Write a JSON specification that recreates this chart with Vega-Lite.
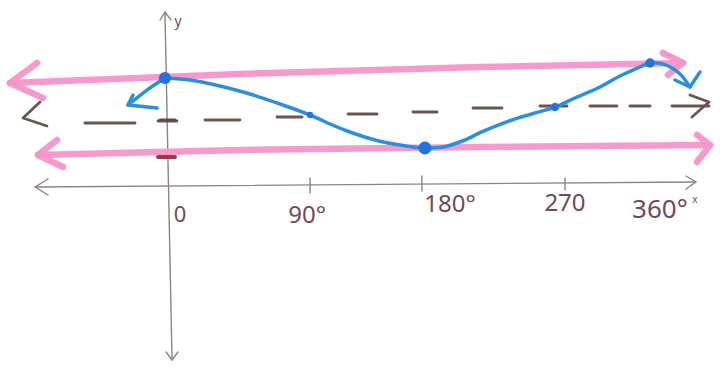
{
  "$schema": "https://vega.github.io/schema/vega-lite/v6.json",
  "width": 720,
  "height": 370,
  "padding": 0,
  "autosize": {"type": "fit", "contains": "padding"},
  "background": "#ffffff",
  "config": {"view": {"stroke": null}},
  "datasets": {
    "lines": [
      {"kind": "axis", "path": "yaxis", "i": 0, "x": -3.8, "y": 3.04},
      {"kind": "axis", "path": "yaxis", "i": 1, "x": 1.4, "y": -7.4},
      {"kind": "axis", "path": "yarrT", "i": 0, "x": -7.4, "y": 2.8},
      {"kind": "axis", "path": "yarrT", "i": 1, "x": -3.8, "y": 3.04},
      {"kind": "axis", "path": "yarrT", "i": 2, "x": 0.6, "y": 2.8},
      {"kind": "axis", "path": "yarrB", "i": 0, "x": -3.0, "y": -7.16},
      {"kind": "axis", "path": "yarrB", "i": 1, "x": 1.4, "y": -7.4},
      {"kind": "axis", "path": "yarrB", "i": 2, "x": 5.8, "y": -7.16},
      {"kind": "axis", "path": "xaxis", "i": 0, "x": -99.3, "y": -2.21},
      {"kind": "axis", "path": "xaxis", "i": 1, "x": 386.3, "y": -2.06},
      {"kind": "axis", "path": "xarrL", "i": 0, "x": -89.7, "y": -1.97},
      {"kind": "axis", "path": "xarrL", "i": 1, "x": -99.3, "y": -2.21},
      {"kind": "axis", "path": "xarrL", "i": 2, "x": -89.7, "y": -2.45},
      {"kind": "axis", "path": "xarrR", "i": 0, "x": 379.0, "y": -1.88},
      {"kind": "axis", "path": "xarrR", "i": 1, "x": 386.3, "y": -2.06},
      {"kind": "axis", "path": "xarrR", "i": 2, "x": 379.0, "y": -2.27},
      {"kind": "axis", "path": "t90", "i": 0, "x": 102.8, "y": -1.94},
      {"kind": "axis", "path": "t90", "i": 1, "x": 102.8, "y": -2.39},
      {"kind": "axis", "path": "t180", "i": 0, "x": 185.0, "y": -1.88},
      {"kind": "axis", "path": "t180", "i": 1, "x": 185.0, "y": -2.33},
      {"kind": "axis", "path": "t270", "i": 0, "x": 290.1, "y": -1.94},
      {"kind": "axis", "path": "t270", "i": 1, "x": 290.1, "y": -2.3},

      {"kind": "pink", "path": "upper", "i": 0, "x": -117.7, "y": 0.91},
      {"kind": "pink", "path": "upper", "i": 1, "x": 51.3, "y": 1.18},
      {"kind": "pink", "path": "upper", "i": 2, "x": 227.7, "y": 1.39},
      {"kind": "pink", "path": "upper", "i": 3, "x": 376.8, "y": 1.51},
      {"kind": "pink", "path": "upperL", "i": 0, "x": -97.8, "y": 1.51},
      {"kind": "pink", "path": "upperL", "i": 1, "x": -117.7, "y": 0.91},
      {"kind": "pink", "path": "upperL", "i": 2, "x": -93.4, "y": 0.46},
      {"kind": "pink", "path": "upperR", "i": 0, "x": 362.1, "y": 1.81},
      {"kind": "pink", "path": "upperR", "i": 1, "x": 376.8, "y": 1.51},
      {"kind": "pink", "path": "upperR", "i": 2, "x": 365.8, "y": 1.15},
      {"kind": "pink", "path": "lower", "i": 0, "x": -97.1, "y": -1.25},
      {"kind": "pink", "path": "lower", "i": 1, "x": 51.3, "y": -1.1},
      {"kind": "pink", "path": "lower", "i": 2, "x": 227.7, "y": -1.01},
      {"kind": "pink", "path": "lower", "i": 3, "x": 396.7, "y": -0.95},
      {"kind": "pink", "path": "lowerL", "i": 0, "x": -83.1, "y": -0.8},
      {"kind": "pink", "path": "lowerL", "i": 1, "x": -97.1, "y": -1.25},
      {"kind": "pink", "path": "lowerL", "i": 2, "x": -78.7, "y": -1.61},
      {"kind": "pink", "path": "lowerR", "i": 0, "x": 387.1, "y": -0.65},
      {"kind": "pink", "path": "lowerR", "i": 1, "x": 396.7, "y": -0.95},
      {"kind": "pink", "path": "lowerR", "i": 2, "x": 387.1, "y": -1.46},

      {"kind": "dash", "path": "dL", "i": 0, "x": -95.6, "y": 0.34},
      {"kind": "dash", "path": "dL", "i": 1, "x": -108.1, "y": -0.14},
      {"kind": "dash", "path": "dL", "i": 2, "x": -90.5, "y": -0.38},
      {"kind": "dash", "path": "d1", "i": 0, "x": -62.6, "y": -0.29},
      {"kind": "dash", "path": "d1", "i": 1, "x": -25.8, "y": -0.29},
      {"kind": "dash", "path": "d2", "i": 0, "x": -8.9, "y": -0.23},
      {"kind": "dash", "path": "d2", "i": 1, "x": 5.0, "y": -0.23},
      {"kind": "dash", "path": "d3", "i": 0, "x": 25.6, "y": -0.2},
      {"kind": "dash", "path": "d3", "i": 1, "x": 51.3, "y": -0.2},
      {"kind": "dash", "path": "d4", "i": 0, "x": 78.5, "y": -0.11},
      {"kind": "dash", "path": "d4", "i": 1, "x": 96.9, "y": -0.11},
      {"kind": "dash", "path": "d5", "i": 0, "x": 130.7, "y": -0.02},
      {"kind": "dash", "path": "d5", "i": 1, "x": 152.0, "y": -0.02},
      {"kind": "dash", "path": "d6", "i": 0, "x": 178.4, "y": 0.04},
      {"kind": "dash", "path": "d6", "i": 1, "x": 196.1, "y": 0.04},
      {"kind": "dash", "path": "d7", "i": 0, "x": 222.5, "y": 0.16},
      {"kind": "dash", "path": "d7", "i": 1, "x": 243.8, "y": 0.16},
      {"kind": "dash", "path": "d8", "i": 0, "x": 271.7, "y": 0.22},
      {"kind": "dash", "path": "d8", "i": 1, "x": 291.6, "y": 0.22},
      {"kind": "dash", "path": "d9", "i": 0, "x": 308.5, "y": 0.22},
      {"kind": "dash", "path": "d9", "i": 1, "x": 328.3, "y": 0.22},
      {"kind": "dash", "path": "d10", "i": 0, "x": 337.9, "y": 0.22},
      {"kind": "dash", "path": "d10", "i": 1, "x": 352.6, "y": 0.22},
      {"kind": "dash", "path": "d11", "i": 0, "x": 368.7, "y": 0.22},
      {"kind": "dash", "path": "d11", "i": 1, "x": 395.9, "y": 0.22},
      {"kind": "dash", "path": "dR", "i": 0, "x": 381.9, "y": 0.55},
      {"kind": "dash", "path": "dR", "i": 1, "x": 395.9, "y": 0.34},
      {"kind": "dash", "path": "dR", "i": 2, "x": 383.4, "y": -0.11},

      {"kind": "ytick1", "path": "yt1", "i": 0, "x": -7.4, "y": -0.2},
      {"kind": "ytick1", "path": "yt1", "i": 1, "x": 3.6, "y": -0.2},
      {"kind": "ytick2", "path": "yt2", "i": 0, "x": -8.9, "y": -1.31},
      {"kind": "ytick2", "path": "yt2", "i": 1, "x": 3.6, "y": -1.31},

      {"kind": "bluehead", "path": "bL", "i": 0, "x": -27.3, "y": 0.55},
      {"kind": "bluehead", "path": "bL", "i": 1, "x": -31.0, "y": 0.25},
      {"kind": "bluehead", "path": "bL", "i": 2, "x": -9.6, "y": 0.16},
      {"kind": "blue", "path": "curveL", "i": 0, "x": -31.0, "y": 0.25},
      {"kind": "blue", "path": "curveL", "i": 1, "x": -16.3, "y": 0.72},
      {"kind": "blue", "path": "curveL", "i": 2, "x": -3.8, "y": 1.06},
      {"kind": "blue", "path": "curve", "i": 0, "x": -3.8, "y": 1.06},
      {"kind": "blue", "path": "curve", "i": 1, "x": 14.6, "y": 1.0},
      {"kind": "blue", "path": "curve", "i": 2, "x": 36.6, "y": 0.82},
      {"kind": "blue", "path": "curve", "i": 3, "x": 58.7, "y": 0.58},
      {"kind": "blue", "path": "curve", "i": 4, "x": 80.7, "y": 0.28},
      {"kind": "blue", "path": "curve", "i": 5, "x": 102.8, "y": -0.05},
      {"kind": "blue", "path": "curve", "i": 6, "x": 117.5, "y": -0.32},
      {"kind": "blue", "path": "curve", "i": 7, "x": 132.1, "y": -0.56},
      {"kind": "blue", "path": "curve", "i": 8, "x": 150.5, "y": -0.8},
      {"kind": "blue", "path": "curve", "i": 9, "x": 168.9, "y": -0.95},
      {"kind": "blue", "path": "curve", "i": 10, "x": 185.8, "y": -1.04},
      {"kind": "blue", "path": "curve", "i": 11, "x": 201.9, "y": -1.0},
      {"kind": "blue", "path": "curve", "i": 12, "x": 216.6, "y": -0.8},
      {"kind": "blue", "path": "curve", "i": 13, "x": 227.7, "y": -0.58},
      {"kind": "blue", "path": "curve", "i": 14, "x": 242.4, "y": -0.33},
      {"kind": "blue", "path": "curve", "i": 15, "x": 257.0, "y": -0.12},
      {"kind": "blue", "path": "curve", "i": 16, "x": 271.7, "y": 0.05},
      {"kind": "blue", "path": "curve", "i": 17, "x": 282.8, "y": 0.19},
      {"kind": "blue", "path": "curve", "i": 18, "x": 297.5, "y": 0.46},
      {"kind": "blue", "path": "curve", "i": 19, "x": 315.8, "y": 0.79},
      {"kind": "blue", "path": "curve", "i": 20, "x": 330.5, "y": 1.12},
      {"kind": "blue", "path": "curve", "i": 21, "x": 345.2, "y": 1.39},
      {"kind": "blue", "path": "curve", "i": 22, "x": 352.6, "y": 1.51},
      {"kind": "blue", "path": "curve", "i": 23, "x": 363.6, "y": 1.46},
      {"kind": "blue", "path": "curve", "i": 24, "x": 374.6, "y": 1.18},
      {"kind": "blue", "path": "curve", "i": 25, "x": 381.9, "y": 0.79},
      {"kind": "bluehead", "path": "bR", "i": 0, "x": 389.3, "y": 1.24},
      {"kind": "bluehead", "path": "bR", "i": 1, "x": 381.9, "y": 0.79},
      {"kind": "bluehead", "path": "bR", "i": 2, "x": 370.9, "y": 1.0}
    ],
    "dots": [
      {"x": -3.8, "y": 1.06, "s": 150},
      {"x": 102.8, "y": -0.05, "s": 40},
      {"x": 187.2, "y": -1.04, "s": 170},
      {"x": 282.8, "y": 0.19, "s": 70},
      {"x": 352.6, "y": 1.51, "s": 90}
    ],
    "labels": [
      {"text": "0", "x": 7.2, "y": -3.05, "size": 22},
      {"text": "90°", "x": 100.6, "y": -3.08, "size": 24},
      {"text": "180°", "x": 205.6, "y": -2.75, "size": 24},
      {"text": "270", "x": 290.1, "y": -2.72, "size": 24},
      {"text": "360°", "x": 359.9, "y": -2.9, "size": 26},
      {"text": "x", "x": 385.6, "y": -2.6, "size": 10},
      {"text": "y", "x": 5.8, "y": 2.74, "size": 14}
    ]
  },
  "encoding": {
    "x": {"field": "x", "type": "quantitative", "scale": {"domain": [-125, 404], "nice": false, "zero": false}, "axis": null},
    "y": {"field": "y", "type": "quantitative", "scale": {"domain": [-7.7, 3.4], "nice": false, "zero": false}, "axis": null}
  },
  "layer": [
    {
      "data": {"name": "lines"},
      "transform": [{"filter": "datum.kind === 'axis'"}],
      "mark": {"type": "line", "color": "#8e8282", "strokeWidth": 1.4, "strokeCap": "round", "strokeJoin": "round"},
      "encoding": {"detail": {"field": "path"}, "order": {"field": "i"}}
    },
    {
      "data": {"name": "lines"},
      "transform": [{"filter": "datum.kind === 'pink'"}],
      "mark": {"type": "line", "color": "#f595c8", "strokeWidth": 6.5, "strokeCap": "round", "strokeJoin": "round", "opacity": 0.95},
      "encoding": {"detail": {"field": "path"}, "order": {"field": "i"}}
    },
    {
      "data": {"name": "lines"},
      "transform": [{"filter": "datum.kind === 'dash'"}],
      "mark": {"type": "line", "color": "#6a5650", "strokeWidth": 2.8, "strokeCap": "round", "strokeJoin": "round"},
      "encoding": {"detail": {"field": "path"}, "order": {"field": "i"}}
    },
    {
      "data": {"name": "lines"},
      "transform": [{"filter": "datum.kind === 'ytick1'"}],
      "mark": {"type": "line", "color": "#5e4a44", "strokeWidth": 3, "strokeCap": "round"},
      "encoding": {"detail": {"field": "path"}, "order": {"field": "i"}}
    },
    {
      "data": {"name": "lines"},
      "transform": [{"filter": "datum.kind === 'ytick2'"}],
      "mark": {"type": "line", "color": "#a0344e", "strokeWidth": 4, "strokeCap": "round"},
      "encoding": {"detail": {"field": "path"}, "order": {"field": "i"}}
    },
    {
      "data": {"name": "lines"},
      "transform": [{"filter": "datum.kind === 'blue'"}],
      "mark": {"type": "line", "color": "#2b8fdc", "strokeWidth": 3.5, "strokeCap": "round", "strokeJoin": "round", "interpolate": "cardinal", "tension": 0.2},
      "encoding": {"detail": {"field": "path"}, "order": {"field": "i"}}
    },
    {
      "data": {"name": "lines"},
      "transform": [{"filter": "datum.kind === 'bluehead'"}],
      "mark": {"type": "line", "color": "#2b8fdc", "strokeWidth": 3.5, "strokeCap": "round", "strokeJoin": "round"},
      "encoding": {"detail": {"field": "path"}, "order": {"field": "i"}}
    },
    {
      "data": {"name": "dots"},
      "mark": {"type": "point", "filled": true, "color": "#1f74e0", "opacity": 1},
      "encoding": {"size": {"field": "s", "type": "quantitative", "scale": null}}
    },
    {
      "data": {"name": "labels"},
      "mark": {"type": "text", "color": "#74485a", "font": "Noto Sans", "align": "center", "baseline": "middle"},
      "encoding": {
        "text": {"field": "text"},
        "size": {"field": "size", "type": "quantitative", "scale": null},
        "fontSize": {"field": "size", "type": "quantitative", "scale": null}
      }
    }
  ]
}
